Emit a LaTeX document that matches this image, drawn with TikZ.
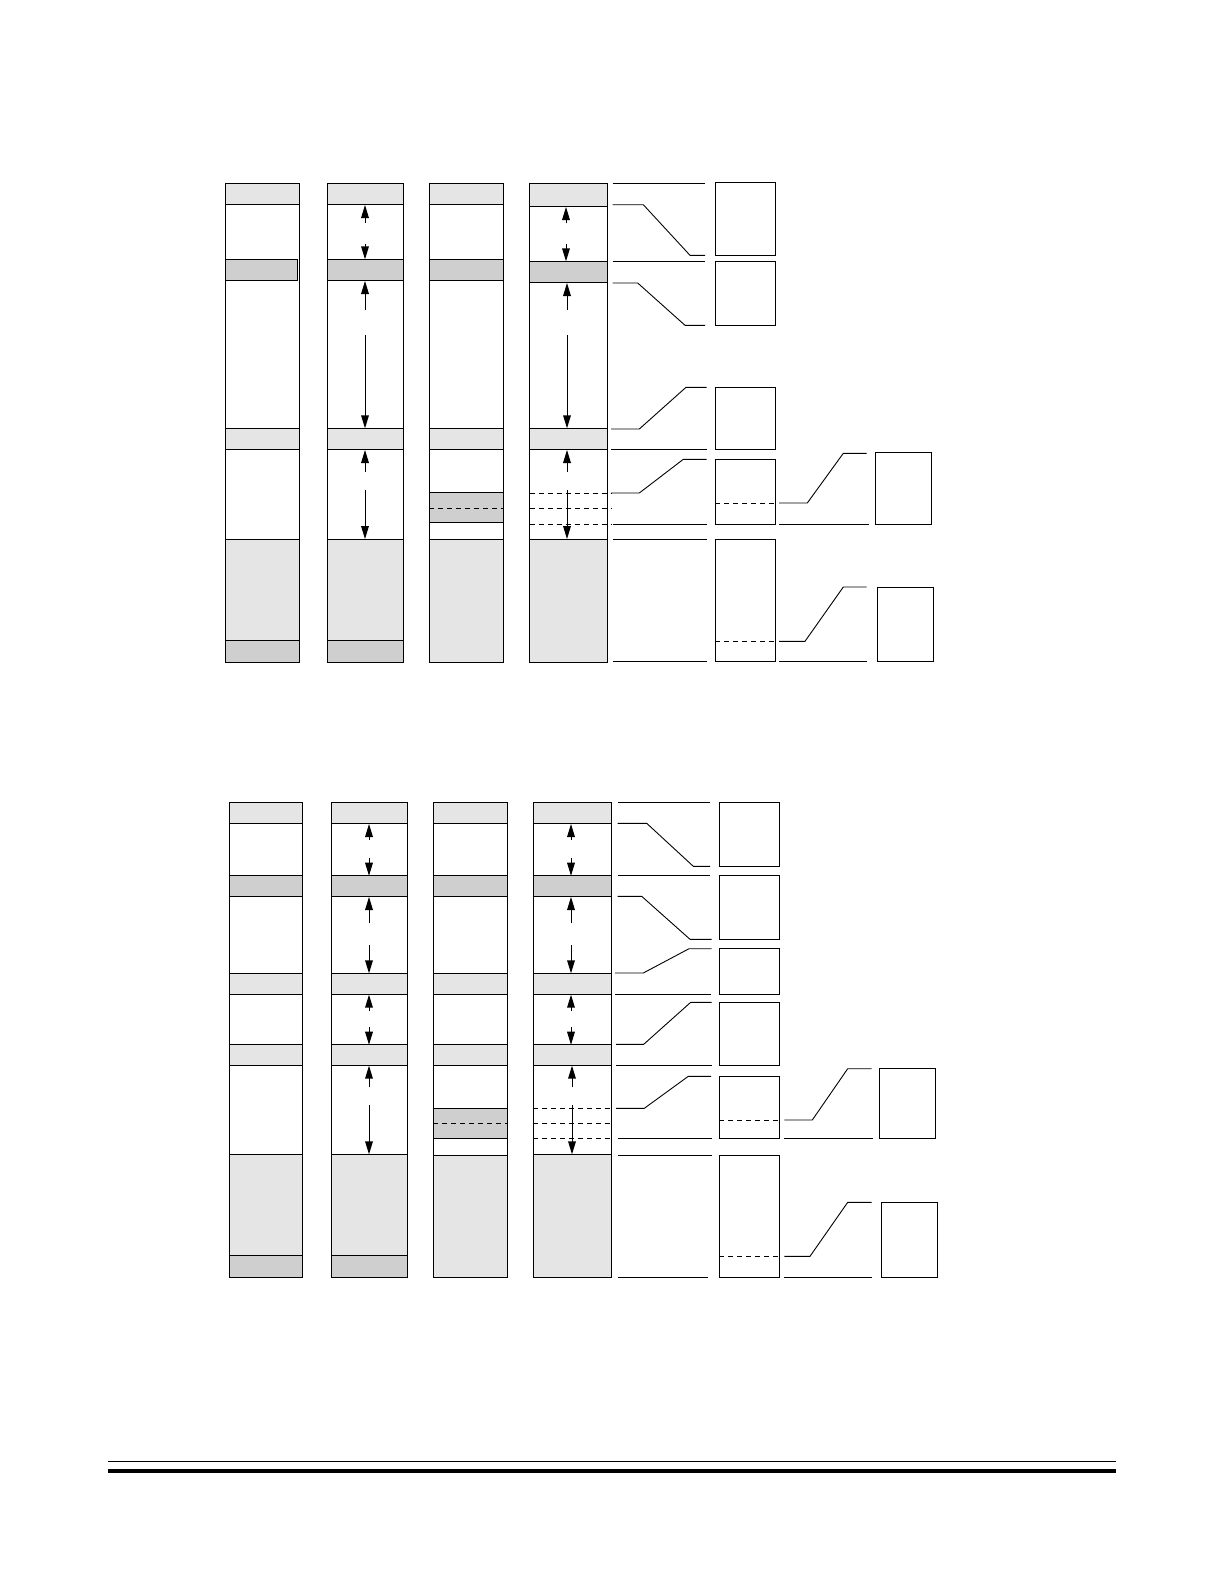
\documentclass[tikz,border=0pt]{standalone}
\usetikzlibrary{arrows.meta}
\newcommand\aup[3]{\draw[ln] (#1,#2) -- (#1,#3+8); \fill (#1,#3) -- ++(-4,13) -- ++(8,0) -- cycle;}
\newcommand\adn[3]{\draw[ln] (#1,#2) -- (#1,#3-8); \fill (#1,#3) -- ++(-4,-13) -- ++(8,0) -- cycle;}
\begin{document}
\begin{tikzpicture}[x=1pt,y=-1pt,
  ln/.style={line width=0.9pt},
  lt/.style={ln,draw=black,fill=black!10},
  hb/.style={ln,draw=black,fill=black!19},
  wb/.style={ln,draw=black,fill=white},
  dsh/.style={line width=0.8pt,dash pattern=on 5pt off 4pt},
  ]
\useasboundingbox (0,0) rectangle (1223,1585);
\fill[white] (0,0) rectangle (1223,1585);

% ================= TOP DIAGRAM =================
% column 1
\draw[wb] (225.3,183.3) rectangle (299.3,662.3);
\draw[lt] (225.3,183.3) rectangle (299.3,204.3);
\draw[hb] (225.3,259.3) rectangle (297.3,280.3);
\draw[lt] (225.3,428.3) rectangle (299.3,449.3);
\draw[lt] (225.3,539.3) rectangle (299.3,640.3);
\draw[hb] (225.3,640.3) rectangle (299.3,662.3);
% column 2
\draw[wb] (327.7,183.3) rectangle (403.3,662.3);
\draw[lt] (327.7,183.3) rectangle (403.3,204.3);
\draw[hb] (327.7,259.3) rectangle (403.3,280.3);
\draw[lt] (327.7,428.3) rectangle (403.3,449.3);
\draw[lt] (327.7,539.3) rectangle (403.3,640.3);
\draw[hb] (327.7,640.3) rectangle (403.3,662.3);
\aup{365}{222.5}{205}
\adn{365}{244}{259.3}
\aup{365}{310}{281}
\adn{365}{335}{428.3}
\aup{365}{471.7}{450}
\adn{365}{490}{539}
% column 3
\draw[wb] (429.3,183.3) rectangle (503.3,662.3);
\draw[lt] (429.3,183.3) rectangle (503.3,204.3);
\draw[hb] (429.3,259.3) rectangle (503.3,280.3);
\draw[lt] (429.3,428.3) rectangle (503.3,449.3);
\draw[hb] (429.3,492.3) rectangle (503.3,522.3);
\draw[dsh] (429.3,508.3) -- (503.3,508.3);
\draw[lt] (429.3,539.3) rectangle (503.3,662.3);
% column 4
\draw[wb] (529.7,183.3) rectangle (607.3,662.3);
\draw[lt] (529.7,183.3) rectangle (607.3,206.3);
\draw[hb] (529.7,261.3) rectangle (607.3,282.3);
\draw[lt] (529.7,428.3) rectangle (607.3,449.3);
\draw[lt] (529.7,539.3) rectangle (607.3,662.3);
\draw[dsh] (529.7,493) -- (611,493);
\draw[dsh] (529.7,508.3) -- (611,508.3);
\draw[dsh] (529.7,524.3) -- (611,524.3);
\aup{566}{223}{207}
\adn{566}{244}{261.3}
\aup{567}{310}{283}
\adn{567}{335}{428.3}
\aup{567}{471.7}{450}
\adn{567}{490}{539}
% right side
\draw[ln] (612.7,183.3) -- (705,183.3);
\draw[wb] (715.3,182.3) rectangle (775.7,255.3);
\draw[ln] (612.7,204.7) -- (643.3,204.7) -- (690,255.3) -- (705,255.3);
\draw[ln] (612.7,261) -- (705,261);
\draw[wb] (715.3,261) rectangle (775.7,325.3);
\draw[ln] (612.7,283) -- (637.7,283) -- (685,325.3) -- (705,325.3);
\draw[ln] (611,429) -- (639.3,429) -- (686,387.3) -- (706.7,387.3);
\draw[wb] (715.3,387.3) rectangle (775.7,449.3);
\draw[ln] (611,449.3) -- (706.7,449.3);
\draw[ln] (611,493) -- (639.3,493) -- (683.3,459.3) -- (706.7,459.3);
\draw[wb] (715.3,459.3) rectangle (775.7,524.3);
\draw[dsh] (715.3,503) -- (775.7,503);
\draw[ln] (613.3,524.3) -- (707,524.3);
\draw[ln] (779,503) -- (807.3,503) -- (843.3,453.3) -- (866.7,453.3);
\draw[wb] (875.3,452.3) rectangle (931.3,524.3);
\draw[ln] (779,524.3) -- (868.7,524.3);
\draw[ln] (613.3,539) -- (707,539);
\draw[wb] (715.3,539) rectangle (775.7,661);
\draw[dsh] (715.3,641.3) -- (775.7,641.3);
\draw[ln] (779,641.3) -- (805,641.3) -- (843.3,587) -- (866.7,587);
\draw[wb] (877.3,587) rectangle (933.3,661);
\draw[ln] (613.3,661) -- (707,661);
\draw[ln] (779,661) -- (866.7,661);

% ================= BOTTOM DIAGRAM =================
% column 1
\draw[wb] (229.3,802.3) rectangle (302.3,1277.3);
\draw[lt] (229.3,802.3) rectangle (302.3,823.3);
\draw[hb] (229.3,875.7) rectangle (302.3,896.3);
\draw[lt] (229.3,973.3) rectangle (302.3,994);
\draw[lt] (229.3,1044.7) rectangle (302.3,1065);
\draw[lt] (229.3,1154.3) rectangle (302.3,1255.3);
\draw[hb] (229.3,1255.3) rectangle (302.3,1277.3);
% column 2
\draw[wb] (331.3,802.3) rectangle (407.7,1277.3);
\draw[lt] (331.3,802.3) rectangle (407.7,823.3);
\draw[hb] (331.3,875.7) rectangle (407.7,896.3);
\draw[lt] (331.3,973.3) rectangle (407.7,994);
\draw[lt] (331.3,1044.7) rectangle (407.7,1065);
\draw[lt] (331.3,1154.3) rectangle (407.7,1255.3);
\draw[hb] (331.3,1255.3) rectangle (407.7,1277.3);
\aup{369}{840}{824}
\adn{369}{858}{875.7}
\aup{369}{923}{897}
\adn{369}{945}{973.3}
\aup{369}{1010.7}{994.7}
\adn{369}{1027}{1044.7}
\aup{369}{1087.3}{1065.7}
\adn{369}{1105}{1154.3}
% column 3
\draw[wb] (433.3,802.3) rectangle (507.7,1277.3);
\draw[lt] (433.3,802.3) rectangle (507.7,823.3);
\draw[hb] (433.3,875.7) rectangle (507.7,896.3);
\draw[lt] (433.3,973.3) rectangle (507.7,994);
\draw[lt] (433.3,1044.7) rectangle (507.7,1065);
\draw[hb] (433.3,1108.3) rectangle (507.7,1138.3);
\draw[dsh] (433.3,1123.3) -- (507.7,1123.3);
\draw[lt] (433.3,1155.3) rectangle (507.7,1277.3);
% column 4
\draw[wb] (533.3,802.3) rectangle (611,1277.3);
\draw[lt] (533.3,802.3) rectangle (611,823.3);
\draw[hb] (533.3,875.7) rectangle (611,896.3);
\draw[lt] (533.3,973.3) rectangle (611,994);
\draw[lt] (533.3,1044.7) rectangle (611,1065);
\draw[lt] (533.3,1154.3) rectangle (611,1277.3);
\draw[dsh] (533.3,1108.3) -- (614,1108.3);
\draw[dsh] (533.3,1123.3) -- (614,1123.3);
\draw[dsh] (533.3,1138.3) -- (614,1138.3);
\aup{571}{840}{824}
\adn{571}{858}{875.7}
\aup{571}{923}{897}
\adn{571}{945}{973.3}
\aup{571}{1010.7}{994.7}
\adn{571}{1027}{1044.7}
\aup{572}{1087.3}{1065.7}
\adn{572}{1105}{1154.3}
% right side
\draw[ln] (617.7,802.3) -- (710,802.3);
\draw[wb] (719.3,802.3) rectangle (779.7,866.3);
\draw[ln] (617.7,823.3) -- (646.7,823.3) -- (693.3,866.3) -- (710,866.3);
\draw[ln] (617.7,875.3) -- (710,875.3);
\draw[wb] (719.3,875.3) rectangle (779.7,939.3);
\draw[ln] (617.7,896.3) -- (641.7,896.3) -- (690,939.3) -- (711.7,939.3);
\draw[ln] (615,973) -- (643.3,973) -- (689,948.7) -- (711.7,948.7);
\draw[wb] (719.3,948.7) rectangle (779.7,994);
\draw[ln] (615,994) -- (710.7,994);
\draw[ln] (616,1044.3) -- (643.7,1044.3) -- (690.7,1002.3) -- (711.7,1002.3);
\draw[wb] (719.3,1002.3) rectangle (779.7,1065);
\draw[ln] (616,1065) -- (711.7,1065);
\draw[ln] (616,1108.3) -- (644.3,1108.3) -- (688.3,1076.3) -- (711,1076.3);
\draw[wb] (719.3,1076.3) rectangle (779.7,1138.3);
\draw[dsh] (719.3,1120) -- (779.7,1120);
\draw[ln] (618,1138.3) -- (711.7,1138.3);
\draw[ln] (784.3,1120) -- (812.3,1120) -- (847.7,1068.7) -- (871.7,1068.7);
\draw[wb] (879.3,1068.7) rectangle (935.3,1138.3);
\draw[ln] (784.3,1138.3) -- (873,1138.3);
\draw[ln] (618,1155.3) -- (711.7,1155.3);
\draw[wb] (719.3,1155.3) rectangle (779.7,1277.3);
\draw[dsh] (719.3,1256.3) -- (779.7,1256.3);
\draw[ln] (784.3,1256.3) -- (810,1256.3) -- (847.7,1202.3) -- (871.7,1202.3);
\draw[wb] (881.7,1202.3) rectangle (937.3,1277.3);
\draw[ln] (618,1277.3) -- (708,1277.3);
\draw[ln] (784.3,1277.3) -- (871.7,1277.3);

% ================= FOOTER RULES =================
\draw[line width=1pt] (107.7,1461.3) -- (1116,1461.3);
\draw[line width=4pt] (107.7,1470.7) -- (1116,1470.7);
\end{tikzpicture}
\end{document}
